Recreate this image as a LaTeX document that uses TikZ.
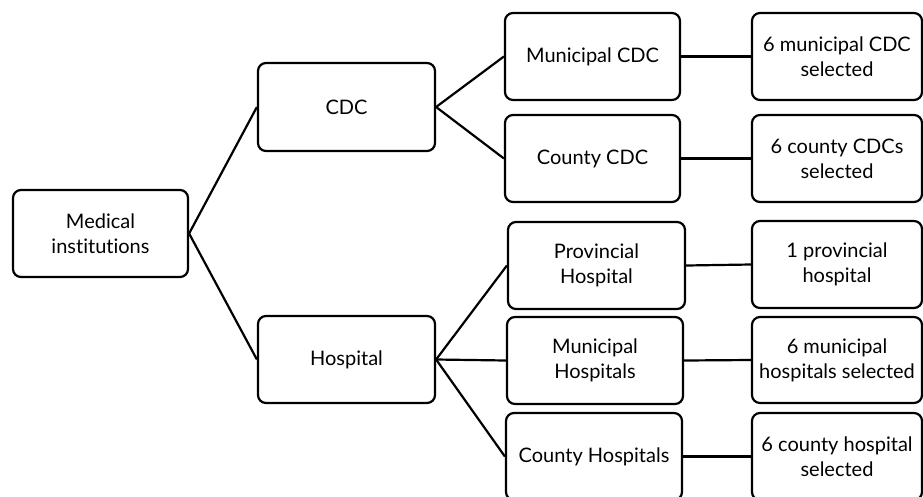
\documentclass[tikz,border=0pt]{standalone}
\usepackage{fontspec}
\setmainfont{Lato}[Ligatures=NoCommon]
\begin{document}
\begin{tikzpicture}[x=1pt,y=-1pt,
  box/.style={draw=black,line width=2.2pt,rounded corners=8pt,fill=white,inner sep=0pt,align=center,font=\fontsize{20}{25}\selectfont},
  conn/.style={draw=black,line width=2.2pt}]
\useasboundingbox (0,0) rectangle (923,496);
\newcommand{\mybox}[6]{\node[box,minimum width=#4-#2,minimum height=#5-#3] (#1) at ({(#2+#4)/2},{(#3+#5)/2}) {#6};}
\mybox{med}{13}{190}{188}{277}{Medical\\institutions}
\mybox{cdc}{258}{63}{435}{151}{CDC}
\mybox{hosp}{258}{316}{435}{403}{Hospital}
\mybox{mcdc}{505}{13}{680}{100}{Municipal CDC}
\mybox{ccdc}{505}{115}{680}{202}{County CDC}
\mybox{phosp}{508}{222}{685}{309}{Provincial\\Hospital}
\mybox{mhosp}{507}{317}{683}{404}{Municipal\\Hospitals}
\mybox{chosp}{506}{413}{682}{500}{County Hospitals}
\mybox{r1}{752}{13}{922}{100}{6 municipal CDC\\selected}
\mybox{r2}{752}{115}{922}{202}{6 county CDCs\\selected}
\mybox{r3}{752}{221}{922}{308}{1 provincial\\hospital}
\mybox{r4}{752}{317}{922}{403}{6 municipal\\hospitals selected}
\mybox{r5}{752}{413}{922}{500}{6 county hospital\\selected}
\draw[conn] (med.east) -- (cdc.west);
\draw[conn] (med.east) -- (hosp.west);
\draw[conn] (cdc.east) -- (mcdc.west);
\draw[conn] (cdc.east) -- (ccdc.west);
\draw[conn] (hosp.east) -- (phosp.west);
\draw[conn] (hosp.east) -- (mhosp.west);
\draw[conn] (hosp.east) -- (chosp.west);
\draw[conn] (mcdc.east) -- (r1.west);
\draw[conn] (ccdc.east) -- (r2.west);
\draw[conn] (phosp.east) -- (r3.west);
\draw[conn] (mhosp.east) -- (r4.west);
\draw[conn] (chosp.east) -- (r5.west);
\end{tikzpicture}
\end{document}
